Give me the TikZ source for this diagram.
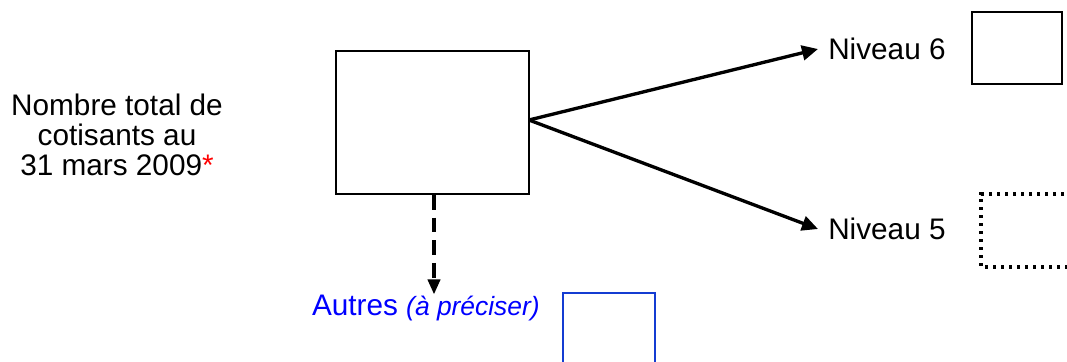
\documentclass[tikz,border=0pt]{standalone}
\usepackage{fontspec}
\setmainfont{Liberation Sans}
\usetikzlibrary{arrows.meta}
\definecolor{txtblue}{RGB}{0,0,255}
\definecolor{boxblue}{RGB}{20,60,210}
\begin{document}
\begin{tikzpicture}[x=0.75pt,y=-0.75pt,
  lbl/.style={inner sep=0pt,font=\fontsize{22.3}{22.5}\selectfont},
  conn/.style={line width=2.5pt,-{Triangle[length=12pt,width=11pt]}},
  dashconn/.style={line width=3pt,dash pattern=on 11pt off 6pt,-{Triangle[length=11pt,width=10pt,line width=0pt]}}]
\useasboundingbox (0,0) rectangle (1067,361);
\node[draw=black,line width=1.3pt,minimum width=193*0.75pt,minimum height=143*0.75pt,inner sep=0pt] (main) at (432.5,122.5) {};
\node[lbl,align=center] (total) at (117,135) {Nombre total de\\cotisants au\\31 mars 2009\textcolor{red}{*}};
\node[lbl,anchor=west] (n6) at (828,49) {Niveau 6};
\node[lbl,anchor=west] (n5) at (828,229) {Niveau 5};
\node[draw=black,line width=1.7pt,minimum width=90*0.75pt,minimum height=72*0.75pt,inner sep=0pt] (b6) at (1017,48) {};
\draw[line width=2.4pt,dash pattern=on 2.4pt off 3.6pt] (1080,194) -- (981,194) -- (981,267) -- (1080,267);
\coordinate (b5) at (981,230);
\node[lbl,text=txtblue,anchor=east] (aut) at (540,308) {Autres \fontsize{19.8}{22}\selectfont\itshape(à préciser)};
\draw[draw=boxblue,line width=1.4pt] (563,370) -- (563,293) -- (655,293) -- (655,370);
\coordinate (ab) at (609,320);
\coordinate (fork) at (529,120);
\draw[conn] (fork) -- ([xshift=-10*0.75pt]n6.west);
\draw[conn] (fork) -- ([xshift=-10*0.75pt]n5.west);
\draw[dashconn] (main.south -| 434,0) -- (434,294);
\end{tikzpicture}
\end{document}
